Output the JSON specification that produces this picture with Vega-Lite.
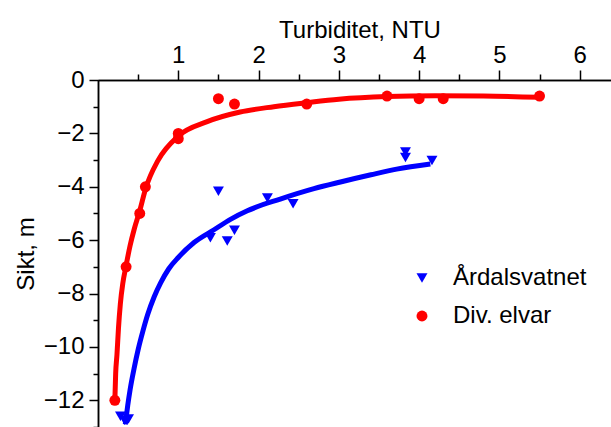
{
  "$schema": "https://vega.github.io/schema/vega-lite/v6.json",
  "width": 513,
  "height": 347,
  "autosize": "none",
  "padding": {"left": 98, "top": 80, "right": 0, "bottom": 0},
  "background": "white",
  "config": {
    "view": {"stroke": null},
    "font": "Liberation Sans",
    "axis": {
      "grid": false,
      "domainColor": "black",
      "tickColor": "black",
      "labelColor": "black",
      "titleColor": "black",
      "domainWidth": 1.5,
      "tickWidth": 1.5,
      "labelFont": "Liberation Sans",
      "titleFont": "Liberation Sans",
      "labelFontSize": 24,
      "titleFontSize": 24,
      "titleFontWeight": "normal",
      "labelFlush": false,
      "labelOverlap": false
    }
  },
  "datasets": {
    "points": [
      {"x": 1.5, "y": -4.17, "series": "Årdalsvatnet"},
      {"x": 2.11, "y": -4.42, "series": "Årdalsvatnet"},
      {"x": 2.43, "y": -4.64, "series": "Årdalsvatnet"},
      {"x": 1.7, "y": -5.63, "series": "Årdalsvatnet"},
      {"x": 1.4, "y": -5.91, "series": "Årdalsvatnet"},
      {"x": 1.61, "y": -6.03, "series": "Årdalsvatnet"},
      {"x": 3.83, "y": -2.7, "series": "Årdalsvatnet"},
      {"x": 3.83, "y": -2.9, "series": "Årdalsvatnet"},
      {"x": 4.16, "y": -3.02, "series": "Årdalsvatnet"},
      {"x": 0.28, "y": -12.6, "series": "Årdalsvatnet"},
      {"x": 0.33, "y": -12.75, "series": "Årdalsvatnet"},
      {"x": 0.38, "y": -12.7, "series": "Årdalsvatnet"},
      {"x": 1.5, "y": -0.7, "series": "Div. elvar"},
      {"x": 1.7, "y": -0.9, "series": "Div. elvar"},
      {"x": 2.6, "y": -0.9, "series": "Div. elvar"},
      {"x": 1.0, "y": -2.0, "series": "Div. elvar"},
      {"x": 1.0, "y": -2.2, "series": "Div. elvar"},
      {"x": 0.59, "y": -4.0, "series": "Div. elvar"},
      {"x": 0.52, "y": -5.0, "series": "Div. elvar"},
      {"x": 0.35, "y": -7.0, "series": "Div. elvar"},
      {"x": 0.21, "y": -12.0, "series": "Div. elvar"},
      {"x": 3.6, "y": -0.6, "series": "Div. elvar"},
      {"x": 4.0, "y": -0.7, "series": "Div. elvar"},
      {"x": 4.3, "y": -0.7, "series": "Div. elvar"},
      {"x": 5.5, "y": -0.6, "series": "Div. elvar"}
    ],
    "red_curve": [
      {"x": 0.21, "y": -12.0},
      {"x": 0.22, "y": -11.0},
      {"x": 0.236, "y": -10.3},
      {"x": 0.255, "y": -9.3},
      {"x": 0.278, "y": -8.4},
      {"x": 0.31, "y": -7.6},
      {"x": 0.35, "y": -6.95},
      {"x": 0.4, "y": -6.2},
      {"x": 0.45, "y": -5.6},
      {"x": 0.52, "y": -4.9},
      {"x": 0.59, "y": -4.1},
      {"x": 0.75, "y": -3.0},
      {"x": 1.0, "y": -2.1},
      {"x": 1.36, "y": -1.56},
      {"x": 1.77, "y": -1.2},
      {"x": 2.19, "y": -1.0},
      {"x": 2.6, "y": -0.85},
      {"x": 3.0, "y": -0.72},
      {"x": 3.6, "y": -0.62},
      {"x": 4.2, "y": -0.59},
      {"x": 4.8, "y": -0.6},
      {"x": 5.5, "y": -0.65}
    ],
    "blue_curve": [
      {"x": 0.34, "y": -12.9},
      {"x": 0.37, "y": -12.2},
      {"x": 0.4, "y": -11.6},
      {"x": 0.45, "y": -10.8},
      {"x": 0.5, "y": -10.1},
      {"x": 0.56, "y": -9.4},
      {"x": 0.62, "y": -8.78},
      {"x": 0.7, "y": -8.12},
      {"x": 0.78, "y": -7.6},
      {"x": 0.88, "y": -7.08},
      {"x": 1.0, "y": -6.65},
      {"x": 1.2, "y": -6.08},
      {"x": 1.44, "y": -5.62},
      {"x": 1.65, "y": -5.22},
      {"x": 1.86, "y": -4.9},
      {"x": 2.27, "y": -4.46},
      {"x": 2.69, "y": -4.07},
      {"x": 3.02, "y": -3.82},
      {"x": 3.4, "y": -3.55},
      {"x": 3.72, "y": -3.34},
      {"x": 4.14, "y": -3.15}
    ]
  },
  "layer": [
    {
      "data": {"name": "points"},
      "mark": {"type": "point", "opacity": 0},
      "encoding": {
        "x": {
          "field": "x", "type": "quantitative",
          "scale": {"domain": [0, 6.39], "nice": false, "zero": false},
          "axis": {"orient": "top", "values": [0.5, 1.5, 2.5, 3.5, 4.5, 5.5], "labels": false, "tickSize": 6, "title": null}
        },
        "y": {
          "field": "y", "type": "quantitative",
          "scale": {"domain": [-13, 0], "nice": false, "zero": false},
          "axis": {"orient": "left", "values": [-13, -11, -9, -7, -5, -3, -1], "labels": false, "tickSize": 5, "title": null}
        }
      }
    },
    {
      "data": {"name": "red_curve"},
      "mark": {"type": "line", "color": "#ff0000", "strokeWidth": 5, "interpolate": "monotone"},
      "encoding": {
        "x": {"field": "x", "type": "quantitative", "axis": null},
        "y": {"field": "y", "type": "quantitative", "axis": null}
      }
    },
    {
      "data": {"name": "blue_curve"},
      "mark": {"type": "line", "color": "#0000ff", "strokeWidth": 5, "interpolate": "monotone"},
      "encoding": {
        "x": {"field": "x", "type": "quantitative", "axis": null},
        "y": {"field": "y", "type": "quantitative", "axis": null}
      }
    },
    {
      "data": {"name": "points"},
      "mark": {"type": "point", "filled": true, "opacity": 1, "size": 120, "strokeWidth": 0},
      "encoding": {
        "x": {
          "field": "x", "type": "quantitative",
          "axis": {
            "orient": "top", "values": [1, 2, 3, 4, 5, 6], "tickSize": 10, "labelPadding": 3,
            "title": "Turbiditet, NTU", "titleX": 261.5, "titleY": -43, "titleAlign": "center", "titleBaseline": "alphabetic"
          }
        },
        "y": {
          "field": "y", "type": "quantitative",
          "axis": {
            "orient": "left", "values": [-12, -10, -8, -6, -4, -2, 0], "tickSize": 9, "labelPadding": 5,
            "title": "Sikt, m", "titleX": -65, "titleY": 173.5, "titleAngle": -90, "titleAlign": "center", "titleBaseline": "alphabetic"
          }
        },
        "color": {
          "field": "series", "type": "nominal",
          "scale": {"domain": ["Årdalsvatnet", "Div. elvar"], "range": ["#0000ff", "#ff0000"]},
          "legend": {
            "orient": "none", "legendX": 312, "legendY": 186, "title": null,
            "labelFontSize": 24, "labelFont": "Liberation Sans", "labelColor": "black",
            "symbolSize": 120, "symbolStrokeWidth": 0, "rowPadding": 14, "labelOffset": 19, "padding": 0
          }
        },
        "shape": {
          "field": "series", "type": "nominal",
          "scale": {"domain": ["Årdalsvatnet", "Div. elvar"], "range": ["triangle-down", "circle"]}
        }
      }
    }
  ],
  "resolve": {"axis": {"x": "independent", "y": "independent"}}
}
